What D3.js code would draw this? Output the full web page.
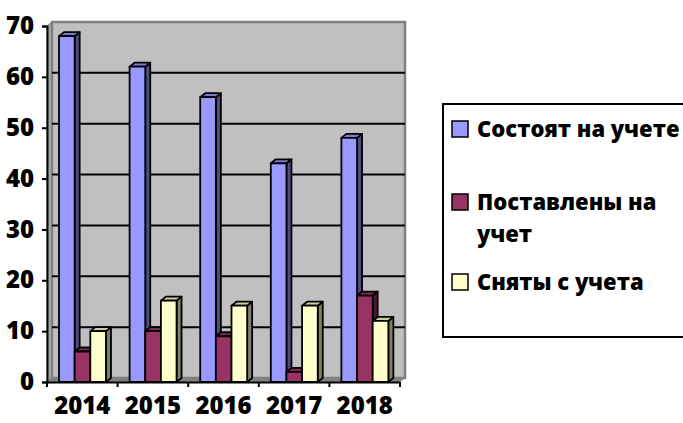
<!DOCTYPE html>
<html>
<head>
<meta charset="utf-8">
<script src="https://cdn.jsdelivr.net/npm/d3@7"></script>
<style>
  body { margin: 0; background: #fff; }
  svg text { font-family: "Open Sans", sans-serif; font-weight: 800; fill: #000; }
</style>
</head>
<body>
<div id="chart"></div>
<script>
const years = ["2014", "2015", "2016", "2017", "2018"];
const onRecord = [68, 62, 56, 43, 48];
const registered = [6, 10, 9, 2, 17];
const removed = [10, 16, 15, 15, 12];
const yTicks = [0, 10, 20, 30, 40, 50, 60, 70];
const seriesNames = ["Состоят на учете", "Поставлены на учет", "Сняты с учета"];

drawChart();

function drawChart(){
    const width = 683;
    const height = 423;
    const left = 47, right = 400, top = 26, bottom = 382;
    const dx = 5, dy = 4;

    const series = [
        {name: seriesNames[0], values: onRecord, face: "#9999FF", side: "#4D4D80", topc: "#7A7ACC"},
        {name: seriesNames[1], values: registered, face: "#993366", side: "#4D1A33", topc: "#7A2952"},
        {name: seriesNames[2], values: removed, face: "#FFFFCC", side: "#808066", topc: "#CCCCA3"}
    ];

    const svg = d3.select("#chart").append("svg")
        .attr("width", width)
        .attr("height", height);

    const x = d3.scaleBand().domain(years).range([left, right]);
    const step = x.step();
    const x1 = d3.scaleBand().domain(d3.range(series.length))
        .range([0.17 * step, 0.835 * step]);
    const y = d3.scaleLinear().domain([0, 70]).range([bottom, top]);

    // left side wall
    svg.append("polygon")
        .attr("points", [[left, y(70)], [left + dx, y(70) - dy], [left + dx, bottom - dy], [left, bottom]].join(" "))
        .attr("fill", "#A8A8A8")
        .attr("stroke", "#808080")
        .attr("stroke-width", 1);

    // floor
    svg.append("polygon")
        .attr("points", [[left, bottom], [left + dx, bottom - dy], [right + dx, bottom - dy], [right, bottom]].join(" "))
        .attr("fill", "#808080");

    // back wall
    svg.append("rect")
        .attr("x", left + dx)
        .attr("y", y(70) - dy)
        .attr("width", right - left)
        .attr("height", bottom - y(70))
        .attr("fill", "#C0C0C0")
        .attr("stroke", "#808080")
        .attr("stroke-width", 2.5);

    // gridlines on wall
    svg.append("g")
        .selectAll("line")
        .data(yTicks.filter(d => d > 0 && d < 70))
        .enter()
        .append("line")
        .attr("x1", left + dx)
        .attr("x2", right + dx)
        .attr("y1", d => y(d) - dy)
        .attr("y2", d => y(d) - dy)
        .attr("stroke", "#000")
        .attr("stroke-width", 2);

    // bars
    const w = x1.bandwidth();
    const bd = 5, bdy = 4;
    years.forEach((year, i) => {
        series.forEach((s, j) => {
            const bx = x(year) + x1(j);
            const by = y(s.values[i]);
            const g = svg.append("g")
                .attr("stroke", "#000")
                .attr("stroke-width", 1.8)
                .attr("stroke-linejoin", "round");
            g.append("polygon")
                .attr("points", [[bx + w, by], [bx + w + bd, by - bdy], [bx + w + bd, bottom - bdy], [bx + w, bottom]].join(" "))
                .attr("fill", s.side);
            g.append("polygon")
                .attr("points", [[bx, by], [bx + bd, by - bdy], [bx + w + bd, by - bdy], [bx + w, by]].join(" "))
                .attr("fill", s.topc);
            g.append("rect")
                .attr("x", bx)
                .attr("y", by)
                .attr("width", w)
                .attr("height", bottom - by)
                .attr("fill", s.face);
        });
    });

    // axes
    const yAxis = svg.append("g")
        .attr("transform", "translate(" + left + ",0)")
        .call(d3.axisLeft(y).tickValues(yTicks).tickSize(5).tickPadding(8));
    const xAxis = svg.append("g")
        .attr("transform", "translate(0," + bottom + ")")
        .call(d3.axisBottom(x).tickSize(0).tickPadding(30));
    xAxis.selectAll(".tick line").remove();
    xAxis.append("g")
        .selectAll("line")
        .data(d3.range(years.length + 1))
        .enter()
        .append("line")
        .attr("x1", d => left + d * step)
        .attr("x2", d => left + d * step)
        .attr("y1", 0)
        .attr("y2", 5)
        .attr("stroke", "#000")
        .attr("stroke-width", 2);
    [yAxis, xAxis].forEach(a => {
        a.select(".domain").attr("stroke", "#000").attr("stroke-width", 2);
        a.selectAll(".tick line").attr("stroke", "#000").attr("stroke-width", 2);
        a.selectAll("text")
            .attr("font-size", 24)
            .attr("font-family", "'Open Sans', sans-serif")
            .attr("font-weight", 800)
            .attr("fill", "#000");
    });
    xAxis.selectAll(".tick text").attr("dy", "0.1em");

    // legend
    const legend = svg.append("g");
    legend.append("rect")
        .attr("x", 443)
        .attr("y", 104)
        .attr("width", 260)
        .attr("height", 233)
        .attr("fill", "#fff")
        .attr("stroke", "#000")
        .attr("stroke-width", 2);
    const rows = [
        {lines: [seriesNames[0]], base: 137},
        {lines: ["Поставлены на", "учет"], base: 210},
        {lines: [seriesNames[2]], base: 290}
    ];
    rows.forEach((r, i) => {
        legend.append("rect")
            .attr("x", 452)
            .attr("y", r.base - 16)
            .attr("width", 16)
            .attr("height", 16)
            .attr("fill", series[i].face)
            .attr("stroke", "#000")
            .attr("stroke-width", 1.5);
        r.lines.forEach((t, k) => {
            legend.append("text")
                .attr("x", 477)
                .attr("y", r.base + k * 32)
                .attr("font-size", 22)
                .attr("font-weight", 800)
                .text(t);
        });
    });
}
</script>
</body>
</html>
